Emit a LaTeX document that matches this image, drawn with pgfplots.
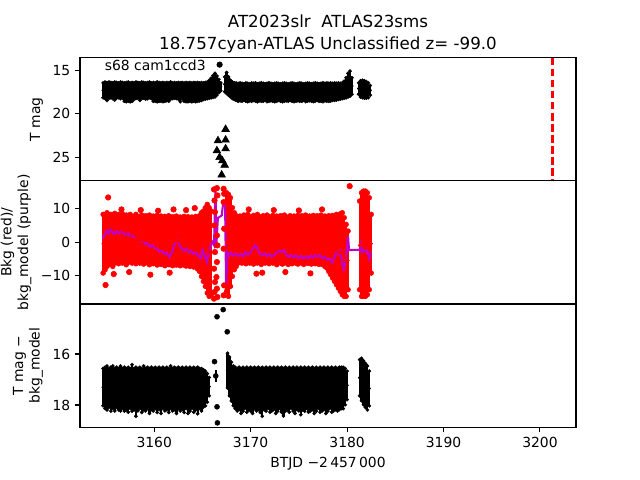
\documentclass[border=0pt]{standalone}
\usepackage{pgfplots}
\pgfplotsset{compat=1.18}
\usepackage{pgfplotstable}
\usepackage{fontspec}
\setmainfont{DejaVu Sans}

% ---------------- top panel: T mag (centre c, half-spread e) ----------------
\pgfplotstableread{
x c e
3154.7 17.30 0.85
3154.9 17.30 0.95
3155.1 17.43 1.03
3155.3 17.28 0.93
3155.5 17.28 0.88
3155.7 17.35 0.90
3155.9 17.38 1.03
3156.1 17.30 0.90
3156.3 17.30 0.85
3156.5 17.30 0.95
3156.7 17.30 0.90
3156.9 17.50 1.05
3157.1 17.50 1.10
3157.3 17.45 1.10
3157.5 17.53 1.08
3157.7 17.48 1.08
3157.9 17.38 0.93
3158.1 17.30 0.95
3158.3 17.30 0.90
3158.5 17.45 1.00
3158.7 17.30 0.95
3158.9 17.30 0.90
3159.1 17.38 0.93
3159.3 17.33 0.93
3159.5 17.25 0.90
3159.7 17.35 0.90
3159.9 17.48 1.08
3160.1 17.50 1.05
3160.3 17.48 1.13
3160.5 17.48 1.08
3160.7 17.50 1.05
3160.9 17.50 1.10
3161.1 17.50 1.05
3161.3 17.45 1.05
3161.5 17.50 1.05
3161.7 17.33 0.98
3161.9 17.35 0.90
3162.1 17.30 0.90
3162.3 17.35 0.90
3162.5 17.35 0.95
3162.7 17.53 1.08
3162.9 17.35 0.95
3163.1 17.50 1.05
3163.3 17.50 1.10
3163.5 17.53 1.08
3163.7 17.48 1.08
3163.9 17.53 1.08
3164.1 17.48 1.08
3164.3 17.53 1.08
3164.5 17.48 1.08
3164.7 17.48 1.03
3164.9 17.43 1.03
3165.1 17.40 0.95
3165.3 17.35 0.95
3165.5 17.30 0.95
3165.7 17.18 1.03
3165.9 17.03 1.13
3166.1 16.85 1.25
3166.3 16.70 1.35
3166.5 16.75 1.10
3166.7 16.80 0.75
3166.9 16.90 0.45
3167.3 16.60 0.85
3167.5 16.45 1.20
3167.7 16.80 1.05
3167.9 17.10 0.95
3168.1 17.30 0.95
3168.3 17.40 0.95
3168.5 17.45 1.00
3168.7 17.53 1.03
3168.9 17.48 1.03
3169.1 17.53 1.03
3169.3 17.50 0.95
3169.5 17.50 1.05
3169.7 17.55 1.05
3169.9 17.53 0.98
3170.1 17.50 1.05
3170.3 17.48 0.98
3170.5 17.50 1.05
3170.7 17.58 1.03
3170.9 17.50 1.00
3171.1 17.50 1.05
3171.3 17.53 1.03
3171.5 17.50 0.95
3171.7 17.55 1.05
3171.9 17.50 1.05
3172.1 17.50 1.00
3172.3 17.55 1.00
3172.5 17.55 1.05
3172.7 17.50 1.05
3172.9 17.48 0.98
3173.1 17.55 1.00
3173.3 17.55 1.05
3173.5 17.50 1.05
3173.7 17.50 1.00
3173.9 17.55 1.00
3174.1 17.48 0.98
3174.3 17.50 1.05
3174.5 17.55 1.05
3174.7 17.55 1.00
3174.9 17.50 1.00
3175.1 17.50 1.05
3175.3 17.53 1.03
3175.5 17.50 0.95
3175.7 17.55 1.05
3175.9 17.50 1.05
3176.1 17.50 1.00
3176.3 17.55 1.00
3176.5 17.55 1.05
3176.7 17.50 1.05
3176.9 17.48 0.98
3177.1 17.55 1.00
3177.3 17.53 1.03
3177.5 17.53 1.08
3177.7 17.50 1.00
3177.9 17.50 1.05
3178.1 17.53 1.03
3178.3 17.48 1.03
3178.5 17.48 0.98
3178.7 17.45 1.00
3178.9 17.45 0.95
3179.1 17.40 0.95
3179.3 17.40 0.90
3179.5 17.35 0.90
3179.7 17.23 0.98
3179.9 17.00 1.15
3180.1 16.70 1.35
3180.3 16.53 1.43
3180.5 16.80 0.95
3181.2 17.10 0.65
3181.4 17.13 0.93
3181.6 17.15 1.00
3181.8 17.20 1.00
3182.0 17.25 0.95
3182.2 17.30 0.85
3182.4 17.30 0.55
}\topband

\pgfplotstableread{
x y
3167.40 21.78
3166.61 23.09
3167.40 23.01
3166.50 24.24
3167.40 24.01
3166.78 25.00
3167.06 25.39
3167.30 25.89
3166.99 27.03
}\toplim

% ---------------- middle panel: background (centre c, half-spread e) ----------------
\pgfplotstableread{
x c e
3154.7 -0.50 8.80
3154.9 -0.25 8.05
3155.1 0.75 8.05
3155.3 0.65 7.45
3155.5 1.00 7.30
3155.7 0.25 7.55
3155.9 1.15 7.45
3156.1 1.05 6.85
3156.3 0.90 7.40
3156.5 0.80 6.90
3156.7 1.10 7.40
3156.9 1.00 6.80
3157.1 0.65 7.45
3157.3 0.75 6.85
3157.5 1.25 7.05
3157.7 0.75 7.05
3157.9 0.80 6.70
3158.1 0.90 7.40
3158.3 0.95 6.75
3158.5 0.50 6.80
3158.7 1.00 7.10
3158.9 0.50 7.10
3159.1 1.00 6.90
3159.3 0.50 6.80
3159.5 0.65 7.45
3159.7 0.70 6.80
3159.9 0.65 7.15
3160.1 0.50 6.80
3160.3 0.55 7.45
3160.5 0.60 6.90
3160.7 0.55 7.25
3160.9 0.45 6.75
3161.1 0.30 7.40
3161.3 0.40 6.90
3161.5 0.55 7.35
3161.7 0.40 7.00
3161.9 0.25 7.35
3162.1 0.20 6.90
3162.3 0.45 7.35
3162.5 0.40 6.90
3162.7 0.20 7.30
3162.9 0.20 7.00
3163.1 0.40 7.30
3163.3 0.05 7.25
3163.5 0.45 7.15
3163.7 -0.10 7.20
3163.9 0.30 7.20
3164.1 -0.10 7.40
3164.3 0.20 7.50
3164.5 -0.35 7.75
3164.7 -0.45 8.35
3164.9 -0.75 9.55
3165.1 -1.25 10.55
3165.3 -1.50 11.80
3165.5 -2.00 13.30
3165.7 -3.00 13.30
3165.9 -3.25 12.55
3167.5 0.00 14.80
3167.7 -1.00 15.30
3167.9 0.00 13.30
3168.1 0.00 10.30
3168.3 0.25 8.55
3168.5 0.30 7.60
3168.7 0.60 6.90
3168.9 0.95 6.85
3169.1 0.50 6.80
3169.3 1.15 6.95
3169.5 0.55 7.05
3169.7 1.10 7.20
3169.9 0.70 7.00
3170.1 0.80 6.60
3170.3 0.70 7.30
3170.5 0.80 6.70
3170.7 1.00 7.30
3170.9 0.80 6.90
3171.1 0.30 7.00
3171.3 1.00 6.90
3171.5 0.60 6.90
3171.7 1.00 7.10
3171.9 0.55 7.05
3172.1 0.70 6.60
3172.3 0.85 7.15
3172.5 0.70 6.80
3172.7 0.50 7.30
3172.9 0.60 6.70
3173.1 0.80 7.10
3173.3 0.40 7.00
3173.5 1.00 7.10
3173.7 0.65 6.95
3173.9 0.30 7.00
3174.1 0.85 7.05
3174.3 0.50 7.00
3174.5 0.85 6.95
3174.7 0.50 6.80
3174.9 0.70 7.30
3175.1 0.70 6.90
3175.3 0.80 7.10
3175.5 0.35 7.05
3175.7 1.00 7.10
3175.9 0.55 6.95
3176.1 0.75 7.05
3176.3 0.35 6.95
3176.5 0.90 7.10
3176.7 0.55 7.05
3176.9 0.80 7.10
3177.1 0.35 7.05
3177.3 0.85 7.25
3177.5 0.35 7.15
3177.7 0.25 7.55
3177.9 -0.25 7.55
3178.1 -0.45 8.35
3178.3 -1.15 8.65
3178.5 -1.40 9.40
3178.7 -2.10 9.70
3178.9 -2.25 10.55
3179.1 -3.00 10.80
3179.3 -3.15 11.65
3179.5 -3.50 12.30
3179.7 -4.50 11.80
3179.9 -5.50 10.80
3180.1 -5.50 8.80
3181.3 -1.00 13.30
3181.5 -0.75 15.55
3181.7 -0.50 15.80
3181.9 -0.50 15.80
3182.1 -0.50 15.30
3182.3 -0.50 13.80
3182.5 -0.50 8.80
}\midband

\pgfplotstableread{
x y
3166.20 15.8
3166.25 12.5
3166.30 9.0
3166.25 5.0
3166.30 -3.0
3166.20 -8.0
3166.30 -12.0
3166.25 -15.0
3166.20 -17.0
3166.50 16.2
3166.55 14.0
3166.50 2.0
3166.55 -1.0
3166.50 -6.0
3166.45 -10.5
3166.50 -14.0
3166.55 -16.5
3167.20 16.0
3167.25 14.5
3167.20 12.0
3167.25 4.0
3167.20 -2.0
3167.25 -13.0
3167.20 -16.0
3155.22 13.4
3154.95 -12.9
3180.27 16.8
3155.80 -9.6
3156.60 9.8
3157.40 -9.0
3158.60 9.6
3159.60 -9.8
3160.40 9.4
3161.60 -9.2
3162.00 9.8
3163.30 9.6
3164.20 10.2
3169.80 9.8
3170.60 -9.5
3171.20 -9.2
3172.40 9.6
3173.60 -9.0
3175.00 9.5
3176.20 -9.4
3177.40 9.8
}\middots

\pgfplotstableread{
x y
3154.65 1.0
3154.85 2.2
3155.05 3.3
3155.25 2.6
3155.45 3.8
3155.65 3.0
3155.85 2.4
3156.05 3.3
3156.30 2.6
3156.55 3.1
3156.80 2.7
3157.05 2.2
3157.30 2.6
3157.55 1.5
3157.80 1.9
3158.05 0.9
3158.30 1.1
3158.55 0.2
3158.80 0.5
3159.05 -0.6
3159.30 -0.3
3159.55 -1.4
3159.80 -1.0
3160.05 -1.8
3160.30 -2.0
3160.55 -2.9
3160.80 -2.6
3161.05 -3.6
3161.30 -3.2
3161.55 -4.5
3161.80 -3.4
3162.00 -1.5
3162.20 0.2
3162.40 0.6
3162.60 -0.8
3162.85 -2.0
3163.10 -2.6
3163.35 -2.0
3163.60 -3.1
3163.85 -2.7
3164.10 -3.6
3164.35 -3.2
3164.60 -4.3
3164.85 -4.8
3165.00 -2.4
3165.20 -3.8
3165.45 -6.0
3165.65 -3.2
3165.85 -1.0
3166.05 0.0
3166.20 -0.9
3166.35 16.0
3166.45 -0.5
3166.60 7.2
3166.80 7.6
3167.00 8.0
3167.12 11.0
3167.35 10.8
3167.45 -12.9
3167.60 -3.3
3167.75 -4.0
3167.95 -3.2
3168.20 -4.1
3168.45 -3.5
3168.70 -4.2
3168.95 -3.6
3169.20 -4.3
3169.45 -3.0
3169.70 -3.8
3169.95 -3.3
3170.20 -2.2
3170.45 -1.0
3170.70 -1.8
3170.95 -3.5
3171.20 -4.0
3171.45 -3.4
3171.70 -4.2
3171.95 -3.6
3172.20 -4.4
3172.45 -3.8
3172.70 -3.2
3172.95 -2.6
3173.20 -3.0
3173.45 -2.4
3173.70 -3.9
3173.95 -4.5
3174.20 -3.9
3174.45 -4.6
3174.70 -4.0
3174.95 -4.8
3175.20 -4.2
3175.45 -5.0
3175.70 -4.4
3175.95 -4.9
3176.20 -4.1
3176.45 -4.7
3176.70 -3.9
3176.95 -4.4
3177.20 -4.0
3177.45 -4.9
3177.70 -4.4
3177.95 -5.3
3178.20 -5.0
3178.45 -6.2
3178.70 -4.5
3178.90 -3.0
3179.10 -3.6
3179.30 -2.6
3179.50 -6.5
3179.65 -8.2
3179.85 -5.5
3180.00 -1.0
3180.10 1.8
3180.20 -2.4
3181.35 -2.3
3181.45 -0.8
3181.55 -3.0
3181.70 -2.4
3181.85 -2.8
3182.00 -2.5
3182.15 -3.4
3182.30 -5.0
3182.45 -2.8
}\midmodel

% ---------------- bottom panel: T mag - bkg_model (centre c, half-spread e) ----------------
\pgfplotstableread{
x c e
3154.7 17.30 0.73
3154.9 17.33 0.81
3155.1 17.33 0.86
3155.3 17.33 0.76
3155.5 17.38 0.86
3155.7 17.30 0.83
3155.9 17.40 0.83
3156.1 17.30 0.78
3156.3 17.38 0.81
3156.5 17.35 0.88
3156.7 17.35 0.78
3156.9 17.38 0.86
3157.1 17.38 0.81
3157.3 17.40 0.88
3157.5 17.35 0.78
3157.7 17.33 0.91
3157.9 17.38 0.81
3158.1 17.48 0.96
3158.3 17.40 0.83
3158.5 17.33 0.81
3158.7 17.43 0.86
3158.9 17.33 0.86
3159.1 17.40 0.83
3159.3 17.33 0.81
3159.5 17.45 0.88
3159.7 17.35 0.83
3159.9 17.40 0.83
3160.1 17.33 0.81
3160.3 17.43 0.86
3160.5 17.35 0.83
3160.7 17.45 0.88
3160.9 17.33 0.81
3161.1 17.40 0.83
3161.3 17.35 0.83
3161.5 17.43 0.86
3161.7 17.30 0.83
3161.9 17.40 0.83
3162.1 17.35 0.83
3162.3 17.45 0.88
3162.5 17.33 0.81
3162.7 17.40 0.83
3162.9 17.35 0.83
3163.1 17.43 0.86
3163.3 17.33 0.81
3163.5 17.45 0.88
3163.7 17.38 0.86
3163.9 17.35 0.78
3164.1 17.40 0.88
3164.3 17.38 0.81
3164.5 17.43 0.91
3164.7 17.35 0.78
3164.9 17.40 0.83
3165.1 17.35 0.73
3165.3 17.35 0.68
3165.5 17.33 0.56
3165.7 17.28 0.36
3167.6 16.65 0.68
3167.8 16.88 0.76
3168.0 17.08 0.76
3168.2 17.25 0.78
3168.4 17.33 0.81
3168.6 17.40 0.83
3168.8 17.35 0.83
3169.0 17.45 0.88
3169.2 17.38 0.86
3169.4 17.35 0.78
3169.6 17.40 0.88
3169.8 17.38 0.81
3170.0 17.38 0.86
3170.2 17.45 0.88
3170.4 17.33 0.81
3170.6 17.40 0.83
3170.8 17.35 0.83
3171.0 17.43 0.86
3171.2 17.48 0.96
3171.4 17.38 0.81
3171.6 17.38 0.86
3171.8 17.35 0.78
3172.0 17.40 0.88
3172.2 17.40 0.83
3172.4 17.35 0.83
3172.6 17.45 0.88
3172.8 17.38 0.86
3173.0 17.35 0.78
3173.2 17.40 0.88
3173.4 17.50 0.93
3173.6 17.38 0.86
3173.8 17.38 0.81
3174.0 17.40 0.88
3174.2 17.35 0.78
3174.4 17.38 0.86
3174.6 17.45 0.88
3174.8 17.35 0.83
3175.0 17.40 0.83
3175.2 17.45 0.93
3175.4 17.38 0.81
3175.6 17.38 0.86
3175.8 17.35 0.78
3176.0 17.40 0.88
3176.2 17.40 0.83
3176.4 17.35 0.83
3176.6 17.45 0.88
3176.8 17.38 0.86
3177.0 17.35 0.78
3177.2 17.40 0.88
3177.4 17.40 0.83
3177.6 17.35 0.83
3177.8 17.45 0.88
3178.0 17.38 0.86
3178.2 17.35 0.78
3178.4 17.40 0.88
3178.6 17.40 0.83
3178.8 17.35 0.83
3179.0 17.40 0.83
3179.2 17.35 0.83
3179.4 17.33 0.81
3179.6 17.33 0.81
3179.8 17.28 0.71
3180.0 17.23 0.56
3181.3 16.93 0.71
3181.5 17.00 0.83
3181.7 17.13 0.86
3181.9 17.23 0.86
3182.1 17.33 0.86
3182.3 17.35 0.68
}\botband

\pgfplotstableread{
x y e
3166.25 16.30 0.10
3166.38 16.86 0.22
3166.51 14.54 0.00
3167.15 14.26 0.00
3167.57 15.13 0.00
3166.51 18.07 0.03
3166.55 18.70 0.00
}\botdots

\definecolor{bkgpurple}{RGB}{190,0,200}

\pgfplotsset{
  panel/.style={
    scale only axis, width=357.12pt, height=88.704pt,
    anchor=south west,
    xmin=3152.3, xmax=3203.74,
    axis line style={line width=0.8pt},
    tick align=outside, major tick length=3.5pt,
    every tick/.style={black, line width=0.8pt},
    xtick pos=left, ytick pos=left,
    /pgf/number format/assume math mode=true,
    tick label style={font=\fontsize{10}{12}\selectfont},
    ylabel style={font=\fontsize{10}{12}\selectfont, align=center},
  },
  blackband/.style={only marks, mark=*, mark size=1.0pt, black,
    error bars/.cd, y dir=both, y explicit,
    error bar style={line width=1.6pt, black},
    error mark=*, error mark options={mark size=1.2pt, line width=0.3pt, black, fill=black}},
  redband/.style={only marks, mark=*, mark size=1.0pt, red,
    error bars/.cd, y dir=both, y explicit,
    error bar style={line width=1.6pt, red},
    error mark=*, error mark options={mark size=1.8pt, line width=0.3pt, red, fill=red}},
}

\begin{document}
\begin{tikzpicture}
\path[use as bounding box] (0,0) rectangle (460.8pt,345.6pt);

% ---------- top panel ----------
\begin{axis}[panel, at={(57.6pt,215.424pt)},
  ymin=13.54, ymax=27.70, y dir=reverse,
  ytick={15,20,25}, xtick=\empty,
  ylabel={T mag}]
\addplot[blackband] table[x=x, y=c, y error=e] {\topband};
\addplot[only marks, mark=triangle*, mark size=3.2pt, black] table[x=x, y=y] {\toplim};
\addplot[only marks, mark=*, mark size=2pt, black] coordinates {(3166.78,14.35)};
\addplot[red, line width=1.5pt, dash pattern=on 5.55pt off 2.4pt] coordinates {(3201.3,13.54) (3201.3,27.70)};
\node[anchor=base west, inner sep=0pt, font=\fontsize{10}{12}\selectfont] at (axis cs:3154.85,15.0) {s68 cam1ccd3};
\end{axis}

% ---------- middle panel ----------
\begin{axis}[panel, at={(57.6pt,126.72pt)},
  ymin=-18.6, ymax=18.4,
  ytick={-10,0,10}, yticklabels={−10,0,10}, xtick=\empty,
  ylabel={Bkg (red)/\\bkg\_model (purple)}]
\addplot[redband] table[x=x, y=c, y error=e] {\midband};
\addplot[only marks, mark=*, mark size=2pt, red] table[x=x, y=y] {\middots};
\addplot[bkgpurple, line width=1.5pt, mark=none] table[x=x, y=y] {\midmodel};
\end{axis}

% ---------- bottom panel ----------
\begin{axis}[panel, at={(57.6pt,38.016pt)},
  ymin=14.04, ymax=18.87, y dir=reverse,
  ytick={16,18},
  xtick={3160,3170,3180,3190,3200},
  xticklabels={3160,3170,3180,3190,3200},
  ylabel={T mag −\\bkg\_model}]
\addplot[blackband] table[x=x, y=c, y error=e] {\botband};
\addplot[only marks, mark=*, mark size=1.8pt, black,
  error bars/.cd, y dir=both, y explicit, error mark=none,
  error bar style={line width=1.2pt, black}]
  table[x=x, y=y, y error=e] {\botdots};
\end{axis}

% ---------- title and x label ----------
\node[anchor=base, inner sep=0pt, font=\fontsize{12}{14}\selectfont] at (236.16pt,325.9pt) {AT2023slr\ \ ATLAS23sms};
\node[anchor=base, inner sep=0pt, font=\fontsize{12}{14}\selectfont] at (236.16pt,310.13pt) {18.757cyan-ATLAS Unclassified z= -99.0};
\node[anchor=base, inner sep=0pt, font=\fontsize{10}{12}\selectfont] at (236.16pt,8.7pt) {BTJD −2\,457\,000};
\end{tikzpicture}
\end{document}
